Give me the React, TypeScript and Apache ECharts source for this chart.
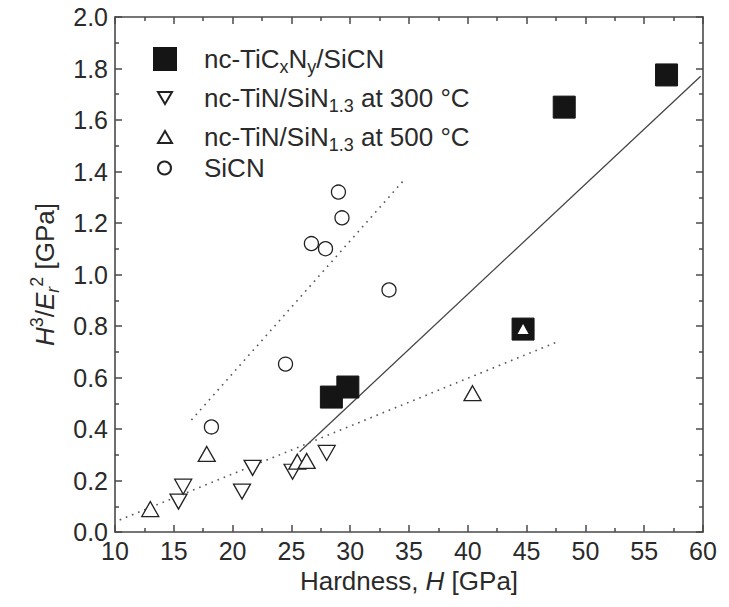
import React, { useEffect, useRef } from "react";
import * as echarts from "echarts";

const squareData: number[][] = [
  [28.4, 0.524],
  [29.8, 0.563],
  [44.7, 0.788],
  [48.2, 1.65],
  [56.9, 1.775],
];
const down300Data: number[][] = [
  [15.4, 0.118],
  [15.8, 0.176],
  [20.8, 0.157],
  [21.7, 0.249],
  [25.1, 0.234],
  [28.0, 0.307],
];
const up500Data: number[][] = [
  [13.0, 0.089],
  [17.8, 0.303],
  [25.5, 0.273],
  [26.3, 0.276],
  [40.4, 0.539],
];
const up500InSquare: number[] = [44.7, 0.788];
const sicnData: number[][] = [
  [18.2, 0.408],
  [24.5, 0.652],
  [26.7, 1.12],
  [27.9, 1.1],
  [29.0, 1.32],
  [29.3, 1.22],
  [33.3, 0.94],
];
const solidFit: number[][] = [
  [25.7, 0.312],
  [59.8, 1.77],
];
const lowerDotFit: number[][] = [
  [10.4, 0.047],
  [47.8, 0.742],
];
const upperDotFit: number[][] = [
  [16.5, 0.435],
  [34.5, 1.363],
];

const names = [
  "nc-TiCxNy/SiCN",
  "nc-TiN/SiN1.3 at 300 °C",
  "nc-TiN/SiN1.3 at 500 °C",
  "SiCN",
];
const richNames: Record<string, string> = {
  [names[0]]: "{f|nc-TiC}{sub|x}{n|N}{sub|y}{n|/SiCN}",
  [names[1]]: "{f|nc-TiN/SiN}{sub|1.3}{n| at 300 °C}",
  [names[2]]: "{f|nc-TiN/SiN}{sub|1.3}{n| at 500 °C}",
  [names[3]]: "{f|SiCN}",
};

const FONT = "'Liberation Sans', Arial, sans-serif";
const FS = 25;
const LFS = 26;
const SFS = 18;
const TXT = "#2a2a2a";
const AX = "#4a4a4a";
const DOWN_TRI = "path://M0,0 L20,0 L10,17 Z";

export default function App() {
  const ref = useRef<HTMLDivElement>(null);
  useEffect(() => {
    if (!ref.current) return;
    const chart = echarts.init(ref.current, null, { renderer: "svg" });
    const LH = 34;
    const legendText = (pad: number) => ({
      fontFamily: FONT,
      color: TXT,
      fontSize: LFS,
      rich: {
        f: { fontFamily: FONT, color: TXT, fontSize: LFS, lineHeight: LH, verticalAlign: "middle", padding: [0, 0, 0, pad] },
        n: { fontFamily: FONT, color: TXT, fontSize: LFS, lineHeight: LH, verticalAlign: "middle" },
        sub: { fontFamily: FONT, color: TXT, fontSize: SFS, lineHeight: 18, verticalAlign: "bottom" },
      },
    });
    const legendRow = (name: string, center: number, iconW: number, iconH: number, left: number, pad: number, icon?: string) => ({
      orient: "vertical",
      left,
      top: center - LH / 2,
      padding: 0,
      itemWidth: iconW,
      itemHeight: iconH,
      selectedMode: false,
      data: [icon ? { name, icon } : { name }],
      formatter: (n: string) => richNames[n],
      textStyle: legendText(pad),
    });
    const xAxisBase = {
      type: "value",
      min: 10,
      max: 60,
      interval: 5,
      splitLine: { show: false },
      axisLine: { show: true, onZero: false, lineStyle: { color: AX, width: 1.6 } },
      axisTick: { show: true, inside: true, length: 7, lineStyle: { color: AX, width: 1.5 } },
      minorTick: { show: true, splitNumber: 2, length: 4, lineStyle: { color: AX, width: 1.5 } },
    };
    const yAxisBase = {
      type: "value",
      min: 0,
      max: 2,
      interval: 0.2,
      splitLine: { show: false },
      axisLine: { show: true, onZero: false, lineStyle: { color: AX, width: 1.6 } },
      axisTick: { show: true, inside: true, length: 7, lineStyle: { color: AX, width: 1.5 } },
      minorTick: { show: true, splitNumber: 2, length: 4, lineStyle: { color: AX, width: 1.5 } },
    };
    const option: any = {
      animation: false,
      backgroundColor: "#fff",
      grid: { left: 115, top: 17, right: 26, bottom: 75, containLabel: false },
      legend: [
        legendRow(names[0], 63, 22, 22, 153, 23),
        legendRow(names[1], 102, 14, 12, 157, 27, DOWN_TRI),
        legendRow(names[2], 141, 14, 12, 157, 27),
        legendRow(names[3], 172, 13, 13, 157, 28),
      ],
      xAxis: [
        {
          ...xAxisBase,
          position: "bottom",
          name: "Hardness, {i|H} [GPa]",
          nameLocation: "middle",
          nameGap: 36,
          nameTextStyle: {
            fontFamily: FONT,
            fontSize: LFS,
            color: TXT,
            rich: { i: { fontFamily: FONT, fontSize: LFS, color: TXT, fontStyle: "italic" } },
          },
          axisLabel: { fontFamily: FONT, fontSize: FS, color: TXT, margin: 6 },
        },
        {
          ...xAxisBase,
          position: "top",
          axisLabel: { show: false },
        },
      ],
      yAxis: [
        {
          ...yAxisBase,
          position: "left",
          name: "{i|H}{sup|3}{n|/}{i|E}{sub|r}{sup|2}{n| [GPa]}",
          nameLocation: "middle",
          nameGap: 53,
          nameTextStyle: {
            fontFamily: FONT,
            fontSize: LFS,
            color: TXT,
            rich: {
              i: { fontFamily: FONT, fontSize: LFS, color: TXT, fontStyle: "italic", lineHeight: 34, verticalAlign: "middle" },
              n: { fontFamily: FONT, fontSize: LFS, color: TXT, lineHeight: 34, verticalAlign: "middle" },
              sup: { fontFamily: FONT, fontSize: SFS, color: TXT, lineHeight: 16, verticalAlign: "top" },
              sub: { fontFamily: FONT, fontSize: SFS, color: TXT, fontStyle: "italic", lineHeight: 16, verticalAlign: "bottom" },
            },
          },
          axisLabel: {
            fontFamily: FONT,
            fontSize: FS,
            color: TXT,
            margin: 7,
            formatter: (v: number) => v.toFixed(1),
          },
        },
        {
          ...yAxisBase,
          position: "right",
          axisLabel: { show: false },
        },
      ],
      series: [
        {
          type: "line",
          data: solidFit,
          showSymbol: false,
          symbol: "none",
          silent: true,
          lineStyle: { color: "#444", width: 1.3, type: "solid" },
          z: 1,
        },
        {
          type: "line",
          data: lowerDotFit,
          showSymbol: false,
          symbol: "none",
          silent: true,
          lineStyle: { color: "#555", width: 1.6, type: [1.6, 5] },
          z: 1,
        },
        {
          type: "line",
          data: upperDotFit,
          showSymbol: false,
          symbol: "none",
          silent: true,
          lineStyle: { color: "#555", width: 1.6, type: [1.6, 5] },
          z: 1,
        },
        {
          name: names[0],
          type: "scatter",
          data: squareData,
          symbol: "rect",
          symbolSize: 22,
          itemStyle: { color: "#151515", borderColor: "#151515", borderWidth: 1, opacity: 1 },
          z: 3,
        },
        {
          name: names[1],
          type: "scatter",
          data: down300Data,
          symbol: "triangle",
          symbolRotate: 180,
          symbolSize: [17, 15],
          itemStyle: { color: "#fff", borderColor: "#222", borderWidth: 1.3, opacity: 1 },
          z: 4,
        },
        {
          name: names[2],
          type: "scatter",
          data: [
            ...up500Data,
            {
              value: up500InSquare,
              symbolSize: [11, 10],
              itemStyle: { color: "#fff", borderColor: "#fff", borderWidth: 0, opacity: 1 },
            },
          ],
          symbol: "triangle",
          symbolSize: [17, 15],
          itemStyle: { color: "#fff", borderColor: "#222", borderWidth: 1.3, opacity: 1 },
          z: 5,
        },
        {
          name: names[3],
          type: "scatter",
          data: sicnData,
          symbol: "circle",
          symbolSize: 14,
          itemStyle: { color: "#fff", borderColor: "#222", borderWidth: 1.3, opacity: 1 },
          z: 4,
        },
      ],
    };
    chart.setOption(option);
    return () => chart.dispose();
  }, []);
  return (
    <div
      ref={ref}
      style={{ position: "fixed", left: 0, top: 0, width: 729, height: 607, background: "#fff" }}
    />
  );
}
